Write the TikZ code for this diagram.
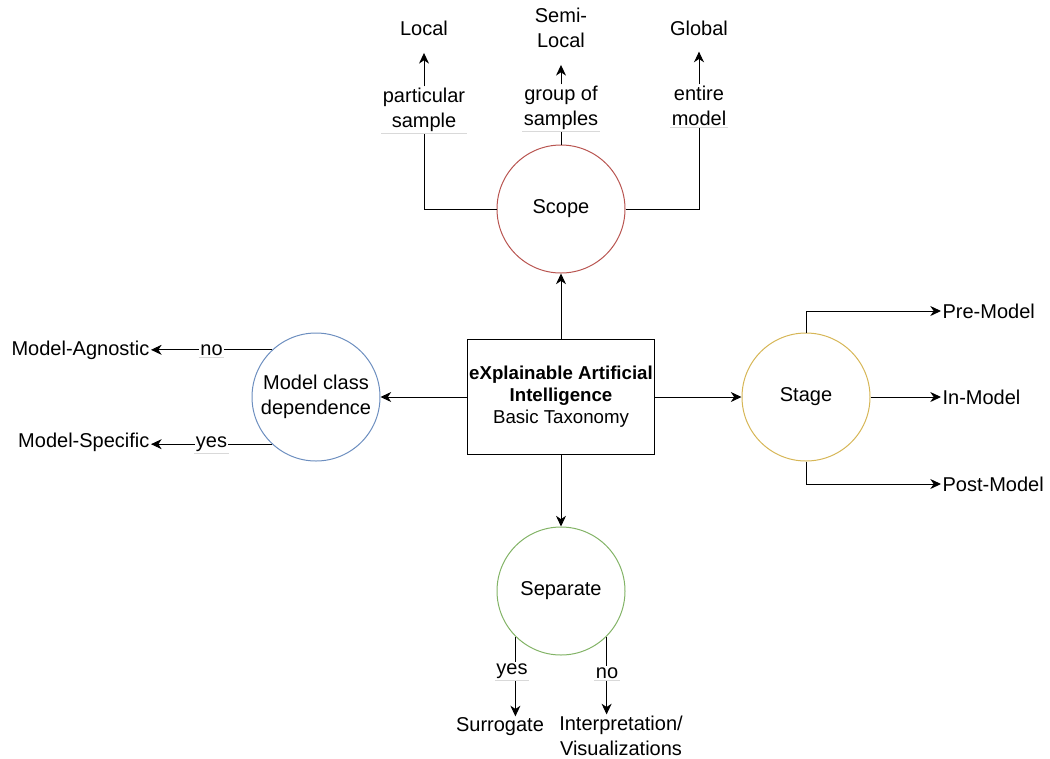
\documentclass[tikz,border=0pt]{standalone}
\usepackage{fontspec}
\setmainfont{Liberation Sans}
\usetikzlibrary{arrows.meta}
\definecolor{cred}{HTML}{B85450}
\definecolor{cblue}{HTML}{6C8EBF}
\definecolor{cyellow}{HTML}{D6B656}
\definecolor{cgreen}{HTML}{82B366}
\begin{document}
\begin{tikzpicture}[x=0.75pt,y=-0.75pt,
  every node/.style={font=\fontsize{15pt}{19pt}\selectfont, align=center, inner sep=1pt},
  circ/.style={circle, draw, line width=0.75pt, minimum size=96pt, inner sep=0pt},
  conn/.style={line width=0.75pt, draw=black},
  arr/.style={conn, -{Stealth[length=8pt,width=7.5pt,inset=2.5pt]}},
  lbl/.style={fill=white, inner sep=1pt},
  faint/.style={draw=black!15, line width=0.6pt}]
\useasboundingbox (0,0) rectangle (1050,758);

% central box
\node[draw, line width=0.75pt, minimum width=140.25pt, minimum height=86.25pt,
      font=\fontsize{14pt}{16.5pt}\selectfont] (xai) at (561,397)
  {\textbf{eXplainable Artificial}\\\textbf{Intelligence}\\Basic Taxonomy};

% circles
\node[circ, draw=cred] (scope) at (561,209) {Scope};
\node[circ, draw=cblue] (mcd) at (316,397) {Model class\\dependence};
\node[circ, draw=cyellow] (stage) at (806,397) {Stage};
\node[circ, draw=cgreen] (sep) at (561,591) {Separate};

% main connectors
\draw[arr] (xai.north) -- (scope.south);
\draw[arr] (xai.west) -- (mcd.east);
\draw[arr] (xai.east) -- (stage.west);
\draw[arr] (xai.south) -- (sep.north);

% Scope branch
\node (local) at (424,28) {Local};
\node (semi) at (561,28) {Semi-\\Local};
\node (global) at (699,28) {Global};
\node[lbl] (lps) at (424,110) {particular\\sample};
\node[lbl] (lgs) at (561,108) {group of\\samples};
\node[lbl] (lem) at (699,106) {entire\\model};
\draw[conn] (scope.west) -| (lps.south);
\draw[conn] (scope.north) -- (lgs.south);
\draw[conn] (scope.east) -| (lem.south);
\draw[arr, shorten >=12pt] (lps.north) -- (local.south);
\draw[arr, shorten >=11.5pt] (lgs.north) -- (semi.south);
\draw[arr, shorten >=11pt] (lem.north) -- (global.south);
\draw[faint] (lps.south west) -- (lps.south east);
\draw[faint] (lgs.south west) -- (lgs.south east);
\draw[faint] (lem.south west) -- (lem.south east);

% Model class dependence branch
\node[anchor=east] (agn) at (151,350) {Model-Agnostic};
\node[anchor=east] (spec) at (151,442) {Model-Specific};
\draw[arr] (mcd.133) -- (mcd.133 -| agn.east) node[lbl, midway] (lno) {no};
\draw[arr] (mcd.227) -- (mcd.227 -| spec.east) node[lbl, midway] (lyes) {yes};
\draw[faint] (lno.south west) -- (lno.south east);
\draw[faint] (lyes.south west) -- (lyes.south east);

% Stage branch
\node[anchor=west] (pre) at (941,311) {Pre-Model};
\node[anchor=west] (inm) at (941,397) {In-Model};
\node[anchor=west] (post) at (941,484) {Post-Model};
\draw[arr] (stage.north) |- (pre.west);
\draw[arr] (stage.east) -- (inm.west);
\draw[arr] (stage.south) |- (post.west);

% Separate branch
\node (sur) at (500,727) {Surrogate};
\node (interp) at (621,736) {Interpretation/\\Visualizations};
\node[lbl] (syes) at (512,671) {yes};
\node[lbl] (sno) at (607,673) {no};
\draw[conn] (sep.225) -- (sep.225 |- syes.north);
\draw[arr] (sep.225 |- syes.south) -- (sep.225 |- sur.north);
\draw[conn] (sep.315) -- (sep.315 |- sno.north);
\draw[arr] (sep.315 |- sno.south) -- (sep.315 |- interp.north);
\draw[faint] (syes.south west) -- (syes.south east);
\draw[faint] (sno.south west) -- (sno.south east);
\end{tikzpicture}
\end{document}
